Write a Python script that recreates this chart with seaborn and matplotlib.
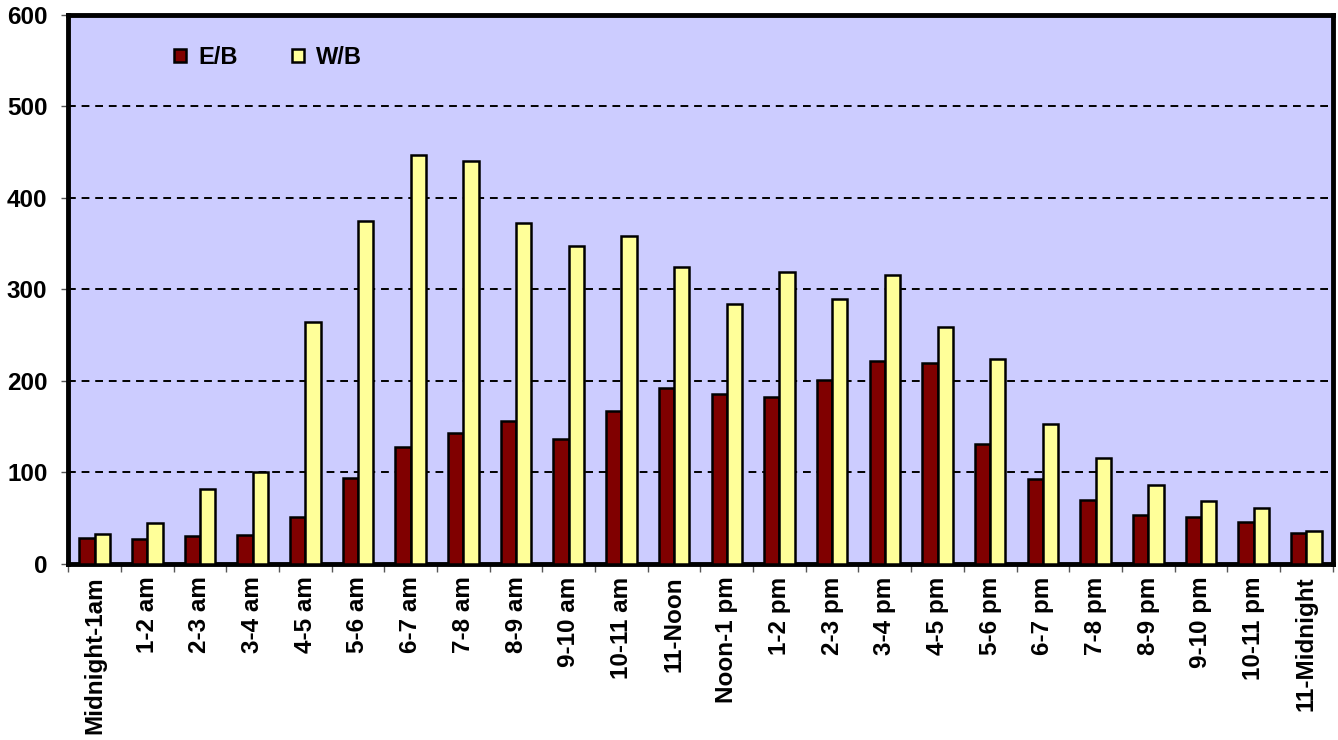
import numpy as np
import pandas as pd
import seaborn as sns
import matplotlib.pyplot as plt
from matplotlib.ticker import FixedLocator

# Hourly volumes by direction
hours = ["Midnight-1am", "1-2 am", "2-3 am", "3-4 am", "4-5 am", "5-6 am",
         "6-7 am", "7-8 am", "8-9 am", "9-10 am", "10-11 am", "11-Noon",
         "Noon-1 pm", "1-2 pm", "2-3 pm", "3-4 pm", "4-5 pm", "5-6 pm",
         "6-7 pm", "7-8 pm", "8-9 pm", "9-10 pm", "10-11 pm", "11-Midnight"]
eb = [28, 27, 30, 32, 51, 94, 128, 143, 156, 137, 167, 192,
      186, 182, 201, 222, 219, 131, 93, 70, 53, 51, 46, 34]
wb = [33, 45, 82, 100, 264, 375, 447, 440, 373, 347, 358, 324,
      284, 319, 289, 316, 259, 224, 153, 116, 86, 69, 61, 36]

df = pd.DataFrame({"hour": hours * 2,
                   "count": eb + wb,
                   "dir": ["E/B"] * len(hours) + ["W/B"] * len(hours)})

sns.set_style("white")
plt.rcParams['font.family'] = ['Liberation Sans', 'DejaVu Sans']
plt.rcParams['font.weight'] = 'bold'
plt.rcParams['text.color'] = 'black'
plt.rcParams['xtick.color'] = 'black'
plt.rcParams['ytick.color'] = 'black'

fig, ax = plt.subplots(figsize=(13.38, 7.4), dpi=100)
fig.subplots_adjust(left=0.051, right=0.996, top=0.98, bottom=0.238)

sns.barplot(data=df, x="hour", y="count", hue="dir",
            palette=["#800000", "#FFFF99"], saturation=1, width=0.58,
            edgecolor="black", linewidth=1.8, ax=ax, zorder=3)

ax.set_facecolor("#CCCCFF")
ax.set_ylim(0, 600)
ax.set_xlim(-0.5, len(hours) - 0.5)
ax.set_yticks(range(0, 601, 100))
ax.set_xlabel("")
ax.set_ylabel("")

for y in range(100, 600, 100):
    ax.axhline(y, color="black", linestyle=(0, (4, 3)), linewidth=1.4, zorder=1)

for s in ax.spines.values():
    s.set_color("black")
    s.set_linewidth(3.5)

ax.tick_params(axis="x", which="major", length=0, pad=9)
ax.xaxis.set_minor_locator(FixedLocator(np.arange(-0.5, len(hours), 1)))
ax.tick_params(axis="x", which="minor", length=6, color="#555555", width=1, bottom=True)
ax.tick_params(axis="y", length=5, color="#555555", width=1, left=True, pad=10)
plt.setp(ax.get_xticklabels(), rotation=90, fontsize=17.5, fontweight="bold")
plt.setp(ax.get_yticklabels(), fontsize=17.5, fontweight="bold")

leg = ax.legend(loc="upper left", bbox_to_anchor=(0.067, 0.982), ncol=2,
                frameon=False, fontsize=17, handlelength=0.52, handleheight=0.52,
                columnspacing=2.3, handletextpad=0.5)
for t in leg.get_texts():
    t.set_fontweight("bold")

plt.savefig("out.png", dpi=100)
